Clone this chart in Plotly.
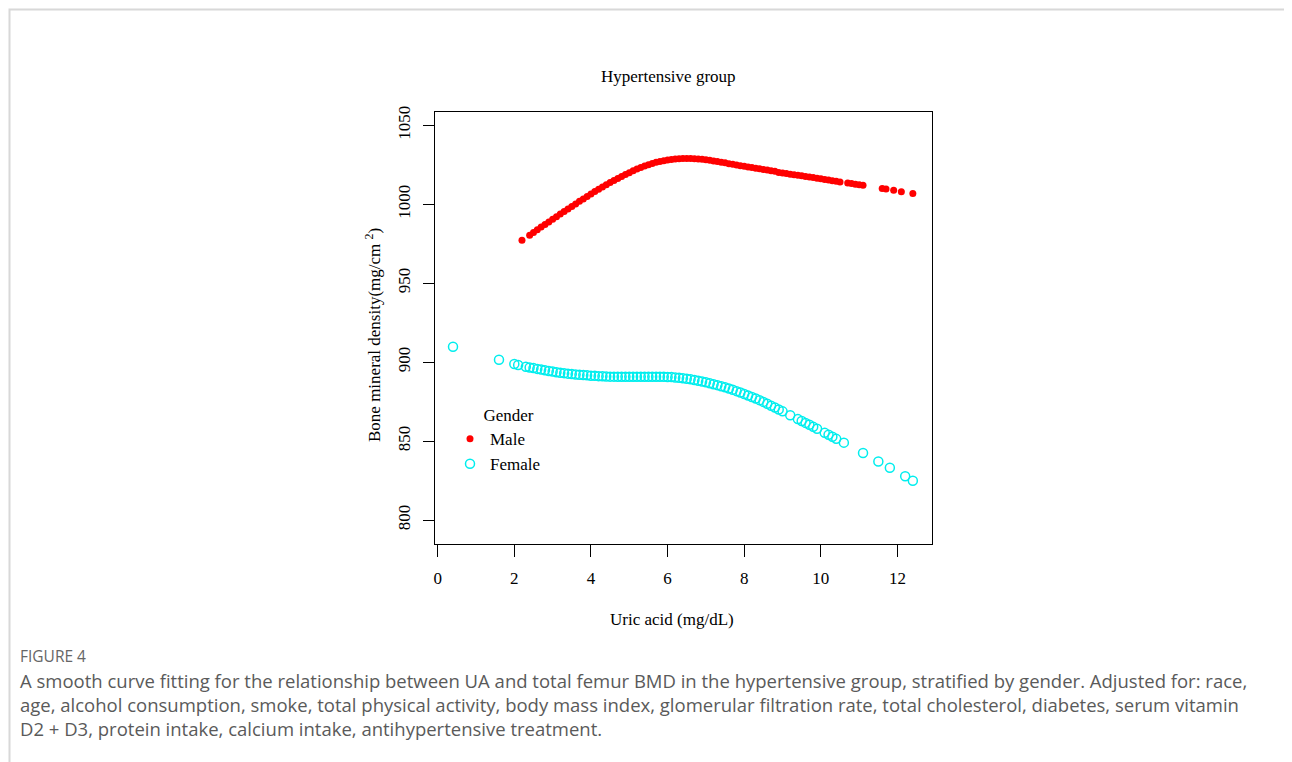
import plotly.graph_objects as go

# ---- data ----
male_ua = [2.2, 2.4, 2.5, 2.6, 2.7, 2.8, 2.9, 3.0, 3.1, 3.2, 3.3, 3.4, 3.5, 3.6, 3.7, 3.8, 3.9,
           4.0, 4.1, 4.2, 4.3, 4.4, 4.5, 4.6, 4.7, 4.8, 4.9, 5.0, 5.1, 5.2, 5.3, 5.4, 5.5, 5.6,
           5.7, 5.8, 5.9, 6.0, 6.1, 6.2, 6.3, 6.4, 6.5, 6.6, 6.7, 6.8, 6.9, 7.0, 7.1, 7.2, 7.3,
           7.4, 7.5, 7.6, 7.7, 7.8, 7.9, 8.0, 8.1, 8.2, 8.3, 8.4, 8.5, 8.6, 8.7, 8.8, 8.9, 9.0,
           9.1, 9.2, 9.3, 9.4, 9.5, 9.6, 9.7, 9.8, 9.9, 10.0, 10.1, 10.2, 10.3, 10.4, 10.5,
           10.7, 10.8, 10.9, 11.0, 11.1, 11.6, 11.7, 11.9, 12.1, 12.4]
male_bmd = [977.2, 980.4, 982.1, 983.8, 985.5, 987.1, 988.8, 990.5, 992.1, 993.8, 995.4, 997.0,
            998.6, 1000.2, 1001.8, 1003.3, 1004.9, 1006.4, 1008.0, 1009.5, 1010.9, 1012.3,
            1013.7, 1015.0, 1016.3, 1017.6, 1018.8, 1020.0, 1021.2, 1022.3, 1023.3, 1024.2,
            1025.0, 1025.8, 1026.5, 1027.1, 1027.6, 1028.0, 1028.3, 1028.6, 1028.8, 1028.9,
            1028.9, 1028.9, 1028.8, 1028.6, 1028.4, 1028.1, 1027.8, 1027.4, 1027.0, 1026.6,
            1026.2, 1025.7, 1025.3, 1024.9, 1024.4, 1024.0, 1023.6, 1023.2, 1022.8, 1022.4,
            1022.0, 1021.6, 1021.2, 1020.8, 1020.1, 1019.8, 1019.4, 1019.0, 1018.7, 1018.3,
            1018.0, 1017.6, 1017.3, 1016.9, 1016.5, 1016.1, 1015.7, 1015.3, 1014.9, 1014.5,
            1014.1, 1013.4, 1013.1, 1012.7, 1012.4, 1012.0, 1009.9, 1009.6, 1008.9, 1007.9,
            1006.8]

female_ua = [0.4, 1.6, 2.0, 2.1, 2.3, 2.4, 2.5, 2.6, 2.7, 2.8, 2.9, 3.0, 3.1, 3.2, 3.3, 3.4,
             3.5, 3.6, 3.7, 3.8, 3.9, 4.0, 4.1, 4.2, 4.3, 4.4, 4.5, 4.6, 4.7, 4.8, 4.9, 5.0,
             5.1, 5.2, 5.3, 5.4, 5.5, 5.6, 5.7, 5.8, 5.9, 6.0, 6.1, 6.2, 6.3, 6.4, 6.5, 6.6,
             6.7, 6.8, 6.9, 7.0, 7.1, 7.2, 7.3, 7.4, 7.5, 7.6, 7.7, 7.8, 7.9, 8.0, 8.1, 8.2,
             8.3, 8.4, 8.5, 8.6, 8.7, 8.8, 8.9, 9.0, 9.2, 9.4, 9.5, 9.6, 9.7, 9.8, 9.9, 10.1,
             10.2, 10.3, 10.4, 10.6, 11.1, 11.5, 11.8, 12.2, 12.4]
female_bmd = [909.7, 901.5, 898.8, 898.2, 897.0, 896.6, 896.2, 895.7, 895.3, 894.8, 894.4,
              894.0, 893.6, 893.3, 893.0, 892.7, 892.4, 892.2, 892.0, 891.8, 891.6, 891.4,
              891.3, 891.1, 891.0, 890.9, 890.8, 890.8, 890.7, 890.7, 890.7, 890.7, 890.7,
              890.7, 890.7, 890.7, 890.7, 890.7, 890.7, 890.7, 890.7, 890.6, 890.5, 890.3,
              890.1, 889.8, 889.5, 889.1, 888.7, 888.2, 887.7, 887.2, 886.6, 886.0, 885.4,
              884.7, 884.0, 883.3, 882.5, 881.6, 880.7, 879.8, 878.8, 877.9, 876.9, 875.9,
              874.8, 873.6, 872.4, 871.2, 870.0, 868.8, 866.3, 863.9, 862.7, 861.5, 860.3,
              859.0, 857.8, 855.2, 854.0, 852.7, 851.4, 849.0, 842.4, 837.1, 833.1, 827.7,
              824.9]

x_ticks = [0, 2, 4, 6, 8, 10, 12]
y_ticks = [800, 850, 900, 950, 1000, 1050]

title_text = "Hypertensive group"
x_title = "Uric acid (mg/dL)"
y_title = "Bone mineral density(mg/cm <sup>2</sup>)"
legend_title = "Gender"
fig_label = "FIGURE 4"
caption_lines = [
    "A smooth curve fitting for the relationship between UA and total femur BMD in the hypertensive group, stratified by gender. Adjusted for: race,",
    "age, alcohol consumption, smoke, total physical activity, body mass index, glomerular filtration rate, total cholesterol, diabetes, serum vitamin",
    "D2 + D3, protein intake, calcium intake, antihypertensive treatment.",
]

# ---- layout geometry (page pixels; page body has an 8px margin) ----
OFF = 8
W, H = 1292 - OFF, 762 - OFF
L, R, T, B = 435, 932, 112, 544
SERIF = "Liberation Serif, Times New Roman, serif"
SANS = "Open Sans, Noto Sans, sans-serif"
FS = 17


def px(xp):
    return (xp - L) / (R - L)


def py(yp):
    return (B - yp) / (B - T)


fig = go.Figure()
fig.add_trace(go.Scatter(
    x=male_ua, y=male_bmd, mode="markers", name="Male",
    marker=dict(symbol="circle", size=7, color="#FF0000", line=dict(width=0)),
))
fig.add_trace(go.Scatter(
    x=female_ua, y=female_bmd, mode="markers", name="Female",
    marker=dict(symbol="circle-open", size=9, color="#00EEEE", line=dict(width=1.5)),
))

fig.update_layout(
    width=W, height=H, autosize=False,
    paper_bgcolor="white", plot_bgcolor="white",
    margin=dict(l=L - OFF, r=W - (R - OFF), t=T - OFF, b=H - (B - OFF), pad=0),
    font=dict(family=SERIF, size=FS, color="black"),
    showlegend=True,
    legend=dict(
        title=dict(text="&nbsp;" * 5 + legend_title, side="top center",
                   font=dict(family=SERIF, size=FS)),
        x=px(450), y=py(399), xanchor="left", yanchor="top",
        bgcolor="rgba(0,0,0,0)", font=dict(family=SERIF, size=FS),
        itemsizing="trace", tracegroupgap=0,
    ),
    xaxis=dict(
        range=[-0.07, 12.9], tickvals=x_ticks, ticktext=[str(v) for v in x_ticks],
        showgrid=False, zeroline=False, showline=True, mirror=True,
        linecolor="black", linewidth=1, ticks="outside", ticklen=12, tickwidth=1,
        tickcolor="black", tickfont=dict(family=SERIF, size=FS),
        ticklabelstandoff=7,
    ),
    yaxis=dict(
        range=[784.8, 1058.4], tickvals=y_ticks, ticktext=[str(v) for v in y_ticks],
        showgrid=False, zeroline=False, showline=True, mirror=True,
        linecolor="black", linewidth=1, ticks="outside", ticklen=11, tickwidth=1,
        tickcolor="black", tickfont=dict(family=SERIF, size=FS), tickangle=-90,
        ticklabelstandoff=6,
    ),
)

ann = []
ann.append(dict(text=title_text, x=px(668), y=py(77), xref="paper", yref="paper",
                xanchor="center", yanchor="middle", showarrow=False,
                font=dict(family=SERIF, size=FS, color="black")))
ann.append(dict(text=x_title, x=px(672), y=py(619), xref="paper", yref="paper",
                xanchor="center", yanchor="middle", showarrow=False,
                font=dict(family=SERIF, size=FS, color="black")))
ann.append(dict(text=y_title, x=px(373), y=py(335), xref="paper", yref="paper",
                xanchor="center", yanchor="middle", showarrow=False, textangle=-90,
                font=dict(family=SERIF, size=FS, color="black")))
ann.append(dict(text=fig_label, x=px(18), y=py(656), xref="paper", yref="paper",
                xanchor="left", yanchor="middle", showarrow=False,
                font=dict(family=SANS, size=15.5, color="#666666")))
for i, line in enumerate(caption_lines):
    ann.append(dict(text=line, x=px(18), y=py(680 + 24 * i), xref="paper", yref="paper",
                    xanchor="left", yanchor="middle", showarrow=False,
                    font=dict(family=SANS, size=18.5, color="#5a5a5a")))
fig.update_layout(annotations=ann)

# card border (kept just inside the figure area)
fig.add_shape(type="rect", xref="paper", yref="paper",
              x0=px(9.5), x1=px(1290), y0=py(790), y1=py(9.5),
              line=dict(color="#d8d8d8", width=2), fillcolor="rgba(0,0,0,0)", layer="below")

fig.write_html("out.html")
